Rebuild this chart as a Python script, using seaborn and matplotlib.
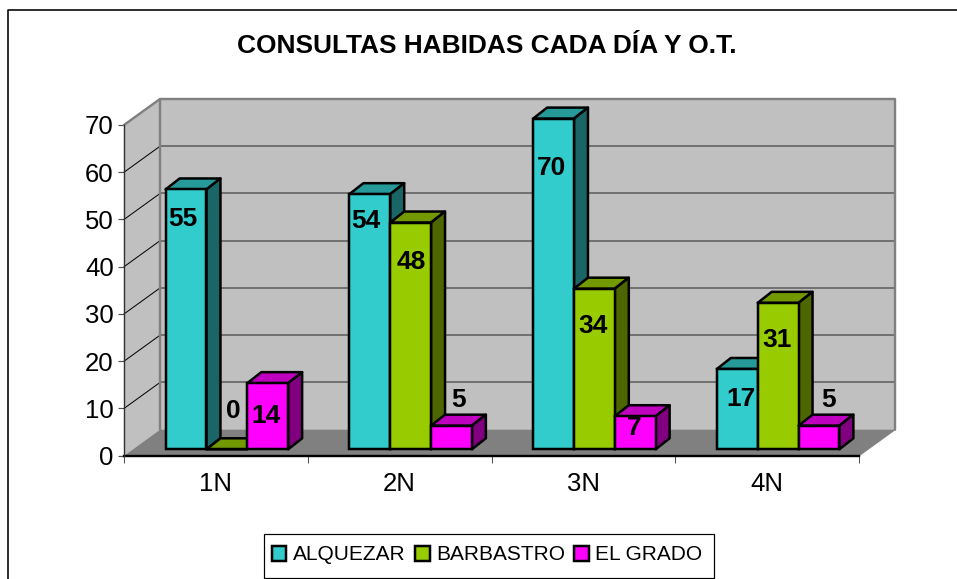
import matplotlib
matplotlib.use('Agg')
import matplotlib.pyplot as plt
from matplotlib.lines import Line2D
from matplotlib.patches import Polygon, Rectangle
import pandas as pd
import seaborn as sns

# Chart values
turnos = ['1N', '2N', '3N', '4N']
alquezar = [55, 54, 70, 17]
barbastro = [0, 48, 34, 31]
el_grado = [14, 5, 7, 5]
series_names = ['ALQUEZAR', 'BARBASTRO', 'EL GRADO']

title = 'CONSULTAS HABIDAS CADA DÍA Y O.T.'
y_ticks = [0, 10, 20, 30, 40, 50, 60, 70]

# Colours per series: front, top, side
front_colors = ['#33CCCC', '#99CC00', '#FF00FF']
top_colors = ['#269999', '#739900', '#BF00BF']
side_colors = ['#1A6666', '#4D6600', '#800080']

# Hand placed data labels, pixels from the top centre of each bar
label_offsets = [
    [(-3, -30), (-4, -27), (-2, -49), (4, -30)],
    [(6, 38), (1, -39), (-1, -37), (-1, -37)],
    [(-2, -33), (7, 26), (-1, -12), (10, 26)],
]

W, H = 957, 579
PX = 72 / 100  # points per pixel at dpi 100

sns.set_theme(style='white')
plt.rcParams['font.family'] = ['Liberation Sans', 'DejaVu Sans']

df = pd.DataFrame({
    'turno': turnos * 3,
    'consultas': alquezar + barbastro + el_grado,
    'ot': [s for s in series_names for _ in turnos],
})

fig = plt.figure(figsize=(W / 100, H / 100), dpi=100)
ax = fig.add_axes([124 / W, (H - 455.7) / H, 735 / W, 330.7 / H])
ax.patch.set_visible(False)

sns.barplot(data=df, x='turno', y='consultas', hue='ot', palette=front_colors,
            width=2 / 3, gap=0, saturation=1, edgecolor='black',
            linewidth=2.5 * PX, ax=ax)
ax.set_xlim(-0.5, 3.5)
ax.set_ylim(0, 70)
ax.set_xlabel('')
ax.set_ylabel('')

# pixel sizes expressed in data units
ux = 735 / 4
uy = 330.7 / 70
wall_dx, wall_dy = 36 / ux, 26 / uy
base_dx, base_dy = 11 / ux, 6.4 / uy
bar_dx, bar_dy = 14 / ux, 11 / uy
x0, x1 = -0.5, 3.5
y0, y1 = 0, 70


def face(points, color, z, edge='none', lw=0):
    ax.add_patch(Polygon(points, closed=True, facecolor=color, edgecolor=edge,
                         linewidth=lw * PX, zorder=z, clip_on=False,
                         joinstyle='round'))


def line(xs, ys, color, lw, z=0.7):
    ax.add_line(Line2D(xs, ys, color=color, linewidth=lw * PX, zorder=z,
                       clip_on=False))


# Walls and floor
face([(x0 + wall_dx, y0 + wall_dy), (x1 + wall_dx, y0 + wall_dy),
      (x1 + wall_dx, y1 + wall_dy), (x0 + wall_dx, y1 + wall_dy)], '#C0C0C0', 0.5)
face([(x0, y0), (x0 + wall_dx, y0 + wall_dy), (x0 + wall_dx, y1 + wall_dy),
      (x0, y1)], '#C0C0C0', 0.5)
face([(x0, y0), (x1, y0), (x1 + wall_dx, y0 + wall_dy),
      (x0 + wall_dx, y0 + wall_dy)], '#808080', 0.6)

for t in y_ticks[1:-1]:
    line([x0 + wall_dx, x1 + wall_dx], [t + wall_dy, t + wall_dy], '#5F5F5F', 1.6)
    line([x0, x0 + wall_dx], [t, t + wall_dy], 'black', 1)

line([x0, x0 + wall_dx, x1 + wall_dx, x1 + wall_dx],
     [y1, y1 + wall_dy, y1 + wall_dy, y0 + wall_dy], '#808080', 2.4)
line([x0 + wall_dx, x0 + wall_dx], [y0 + wall_dy, y1 + wall_dy], '#808080', 2.4)
line([x1, x1 + wall_dx], [y0, y0 + wall_dy], '#808080', 1.2)

# Shift seaborn's bars onto the floor and give them depth
for i, container in enumerate(ax.containers):
    for j, bar in enumerate(container):
        bar.set_x(bar.get_x() + base_dx)
        bar.set_y(base_dy)
        bar.set_zorder(3 + 2 * i)
        bar.set_clip_on(False)
        left = bar.get_x()
        right = left + bar.get_width()
        low = base_dy
        top = low + bar.get_height()
        face([(left, top), (right, top), (right + bar_dx, top + bar_dy),
              (left + bar_dx, top + bar_dy)], top_colors[i], 2 + 2 * i,
             'black', 2.5)
        if bar.get_height() > 0:
            face([(right, low), (right + bar_dx, low + bar_dy),
                  (right + bar_dx, top + bar_dy), (right, top)],
                 side_colors[i], 2 + 2 * i, 'black', 2.5)
        ax.annotate(str(int(bar.get_height())), xy=((left + right) / 2, top),
                    xytext=label_offsets[i][j], textcoords='offset pixels',
                    ha='center', va='center', fontsize=19, fontweight='bold',
                    color='black', zorder=20, annotation_clip=False)

# Axes
sns.despine(ax=ax, top=True, right=True)
ax.spines['left'].set_color('#303030')
ax.spines['left'].set_linewidth(1.4 * PX)
ax.spines['bottom'].set_color('black')
ax.spines['bottom'].set_linewidth(2.4 * PX)
ax.spines['bottom'].set_zorder(1)
ax.set_yticks(y_ticks)
ax.tick_params(axis='y', length=6 * PX, width=1.2 * PX, color='#505050', left=True,
               labelsize=18.5, pad=3, labelcolor='black')
ax.set_xticks([x - 0.5 for x in range(5)], minor=True)
ax.tick_params(axis='x', which='minor', length=7 * PX, width=1 * PX, color='#505050',
               bottom=True)
ax.tick_params(axis='x', which='major', length=0, labelsize=18.5, pad=12,
               labelcolor='black')

# Legend, its box is drawn separately so the margins can differ
handles, labels = ax.get_legend_handles_labels()
ax.legend(handles, labels, ncol=3, loc='center',
          bbox_to_anchor=(487 / W, 1 - 555 / H), bbox_transform=fig.transFigure,
          fontsize=15, frameon=False, handlelength=0.71, handleheight=0.71,
          handletextpad=0.3, columnspacing=0.45, labelcolor='black')
ax.get_legend().set_zorder(30)
fig.add_artist(Rectangle((263.5 / W, 1 - 578 / H), 450.5 / W, 44 / H,
                         transform=fig.transFigure, facecolor='white',
                         edgecolor='black', linewidth=1.2 * PX, zorder=-1))

fig.text(487 / W, 1 - 46 / H, title, ha='center', va='center', fontsize=18.9,
         fontweight='bold', color='black')

# Chart area border, runs off the right and bottom of the image
fig.add_artist(Line2D([8 / W, 8 / W, 1], [0, 1 - 10 / H, 1 - 10 / H],
                      color='black', linewidth=1.6 * PX))

fig.savefig('out.png', dpi=100)
